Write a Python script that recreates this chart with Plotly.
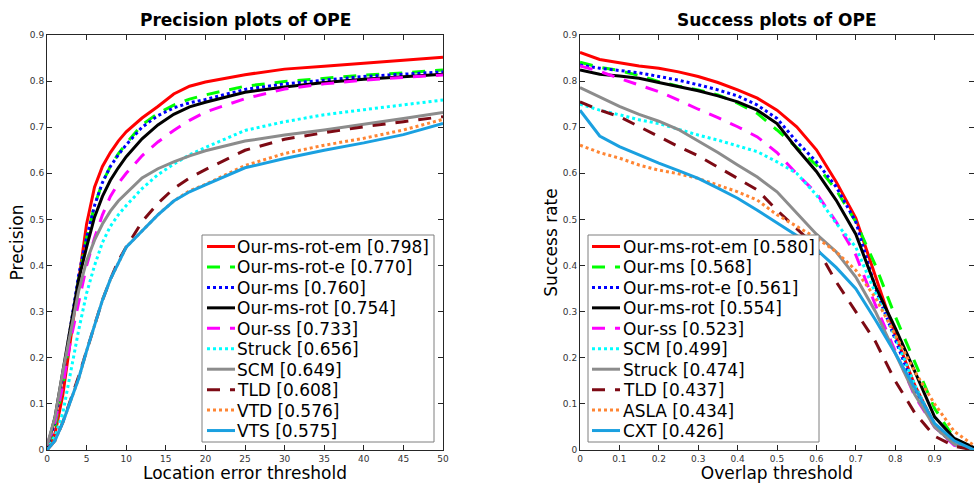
import plotly.graph_objects as go

W, H = 974, 483

# ---------------- data ----------------
prec_x = [0, 1, 2, 3, 4, 5, 6, 7, 8, 9, 10, 12, 14, 16, 18, 20, 25, 30, 35, 40, 45, 50]
prec_names = ["Our-ms-rot-em", "Our-ms-rot-e", "Our-ms", "Our-ms-rot", "Our-ss",
              "Struck", "SCM", "TLD", "VTD", "VTS"]
prec_scores = ["0.798", "0.770", "0.760", "0.754", "0.733", "0.656", "0.649", "0.608", "0.576", "0.575"]
prec_red = [0.005, 0.035, 0.12, 0.24, 0.37, 0.49, 0.57, 0.615, 0.645, 0.67, 0.69, 0.72, 0.745, 0.772, 0.789, 0.798, 0.814, 0.826, 0.832, 0.839, 0.846, 0.852]
prec_green = [0.005, 0.05, 0.14, 0.26, 0.37, 0.46, 0.53, 0.58, 0.615, 0.642, 0.665, 0.705, 0.73, 0.748, 0.761, 0.770, 0.789, 0.799, 0.806, 0.813, 0.818, 0.824]
prec_blue = [0.005, 0.06, 0.16, 0.27, 0.38, 0.46, 0.53, 0.58, 0.615, 0.64, 0.662, 0.70, 0.725, 0.742, 0.753, 0.760, 0.782, 0.794, 0.802, 0.81, 0.815, 0.820]
prec_black = [0.005, 0.07, 0.17, 0.27, 0.37, 0.44, 0.505, 0.55, 0.585, 0.612, 0.636, 0.675, 0.705, 0.728, 0.744, 0.754, 0.776, 0.787, 0.797, 0.804, 0.810, 0.815]
prec_magenta = [0.01, 0.06, 0.14, 0.24, 0.32, 0.40, 0.46, 0.51, 0.55, 0.578, 0.60, 0.638, 0.668, 0.693, 0.715, 0.733, 0.762, 0.783, 0.794, 0.802, 0.808, 0.813]
prec_cyan = [0.0, 0.03, 0.08, 0.17, 0.26, 0.34, 0.40, 0.45, 0.485, 0.51, 0.53, 0.567, 0.597, 0.62, 0.64, 0.656, 0.693, 0.712, 0.727, 0.738, 0.748, 0.759]
prec_gray = [0.01, 0.07, 0.17, 0.26, 0.345, 0.41, 0.455, 0.49, 0.518, 0.54, 0.557, 0.59, 0.61, 0.625, 0.638, 0.649, 0.67, 0.683, 0.694, 0.706, 0.719, 0.732]
prec_maroon = [0.0, 0.02, 0.06, 0.11, 0.16, 0.215, 0.27, 0.325, 0.37, 0.41, 0.44, 0.495, 0.535, 0.567, 0.59, 0.608, 0.65, 0.674, 0.688, 0.701, 0.712, 0.723]
prec_orange = [0.0, 0.02, 0.06, 0.11, 0.155, 0.215, 0.27, 0.325, 0.37, 0.405, 0.44, 0.475, 0.51, 0.54, 0.562, 0.576, 0.617, 0.643, 0.661, 0.676, 0.694, 0.717]
prec_sky = [0.0, 0.02, 0.06, 0.11, 0.155, 0.215, 0.27, 0.325, 0.37, 0.405, 0.44, 0.475, 0.51, 0.54, 0.56, 0.575, 0.612, 0.632, 0.65, 0.666, 0.684, 0.708]

succ_x = [0, 0.05, 0.1, 0.15, 0.2, 0.25, 0.3, 0.35, 0.4, 0.45, 0.5, 0.55, 0.6, 0.65, 0.7, 0.75, 0.8, 0.85, 0.9, 0.95, 1.0]
succ_names = ["Our-ms-rot-em", "Our-ms", "Our-ms-rot-e", "Our-ms-rot", "Our-ss",
              "SCM", "Struck", "TLD", "ASLA", "CXT"]
succ_scores = ["0.580", "0.568", "0.561", "0.554", "0.523", "0.499", "0.474", "0.437", "0.434", "0.426"]
succ_red = [0.862, 0.847, 0.840, 0.833, 0.828, 0.820, 0.810, 0.797, 0.781, 0.763, 0.737, 0.701, 0.651, 0.582, 0.503, 0.375, 0.25, 0.14, 0.055, 0.012, 0.0]
succ_green = [0.841, 0.830, 0.823, 0.812, 0.799, 0.789, 0.781, 0.770, 0.752, 0.730, 0.694, 0.656, 0.618, 0.564, 0.495, 0.40, 0.29, 0.19, 0.09, 0.025, 0.003]
succ_blue = [0.835, 0.828, 0.823, 0.818, 0.810, 0.802, 0.792, 0.781, 0.768, 0.748, 0.719, 0.669, 0.625, 0.571, 0.495, 0.35, 0.24, 0.13, 0.05, 0.012, 0.0]
succ_black = [0.824, 0.815, 0.811, 0.806, 0.797, 0.788, 0.779, 0.768, 0.755, 0.737, 0.708, 0.654, 0.604, 0.542, 0.468, 0.354, 0.265, 0.17, 0.072, 0.025, 0.005]
succ_magenta = [0.833, 0.821, 0.806, 0.792, 0.777, 0.759, 0.739, 0.721, 0.701, 0.679, 0.645, 0.599, 0.557, 0.495, 0.423, 0.314, 0.217, 0.116, 0.05, 0.01, 0.0]
succ_cyan = [0.750, 0.737, 0.727, 0.716, 0.708, 0.695, 0.683, 0.672, 0.659, 0.647, 0.625, 0.600, 0.553, 0.492, 0.44, 0.34, 0.245, 0.14, 0.055, 0.012, 0.0]
succ_gray = [0.786, 0.765, 0.745, 0.728, 0.713, 0.695, 0.670, 0.645, 0.618, 0.592, 0.560, 0.515, 0.468, 0.43, 0.375, 0.30, 0.21, 0.12, 0.05, 0.012, 0.0]
succ_maroon = [0.755, 0.737, 0.723, 0.701, 0.679, 0.658, 0.638, 0.614, 0.589, 0.564, 0.52, 0.48, 0.44, 0.365, 0.30, 0.235, 0.15, 0.08, 0.03, 0.008, 0.0]
succ_orange = [0.661, 0.645, 0.633, 0.618, 0.607, 0.599, 0.589, 0.575, 0.560, 0.542, 0.51, 0.485, 0.46, 0.43, 0.39, 0.33, 0.25, 0.17, 0.10, 0.04, 0.01]
succ_sky = [0.737, 0.681, 0.658, 0.640, 0.622, 0.606, 0.589, 0.568, 0.546, 0.520, 0.492, 0.465, 0.435, 0.396, 0.35, 0.282, 0.21, 0.135, 0.058, 0.02, 0.0]

prec_series = [prec_red, prec_green, prec_blue, prec_black, prec_magenta,
               prec_cyan, prec_gray, prec_maroon, prec_orange, prec_sky]
succ_series = [succ_red, succ_green, succ_blue, succ_black, succ_magenta,
               succ_cyan, succ_gray, succ_maroon, succ_orange, succ_sky]

# ---------------- styles ----------------
colors = ["#ff0000", "#00ff00", "#0000ff", "#000000", "#ff00ff",
          "#00ffff", "#8c8c8c", "#7d0a14", "#ff8533", "#1aa0e0"]
DASHED = "13px,10px"
dashes = ["solid", DASHED, "dot", "solid", DASHED,
          "dot", "solid", DASHED, "dot", "solid"]
LW = 3
FONT = "DejaVu Sans"
AXC = "#262626"

# plot area in pixels
L1, R1 = 47, 443
L2, R2 = 580, 974
TOP, BOT = 35, 450
PW = W - L1          # plotting width (margin l = L1, r = 0)
PH = BOT - TOP       # plotting height (margin t = TOP, b = H - BOT)


def fx(px):
    return (px - L1) / PW


def fy(py):
    return (BOT - py) / PH


fig = go.Figure()

for ys, c, d, n in zip(prec_series, colors, dashes, prec_names):
    fig.add_trace(go.Scatter(x=prec_x, y=ys, mode="lines", name=n, showlegend=False,
                             line=dict(color=c, width=LW, dash=d),
                             xaxis="x", yaxis="y"))
for ys, c, d, n in zip(succ_series, colors, dashes, succ_names):
    fig.add_trace(go.Scatter(x=succ_x, y=ys, mode="lines", name=n, showlegend=False,
                             line=dict(color=c, width=LW, dash=d),
                             xaxis="x2", yaxis="y2"))

axis_common = dict(showline=True, linecolor=AXC, linewidth=1, mirror="ticks",
                   ticks="inside", ticklen=5, tickcolor=AXC, tickwidth=1,
                   showgrid=False, zeroline=False,
                   tickfont=dict(family=FONT, size=9, color="#333333"))

fig.update_layout(
    width=W, height=H,
    margin=dict(l=L1, r=0, t=TOP, b=H - BOT, autoexpand=False),
    paper_bgcolor="white", plot_bgcolor="white",
    font=dict(family=FONT, color="black"),
    xaxis=dict(domain=[fx(L1), fx(R1)], range=[0, 50], tickvals=list(range(0, 51, 5)),
               anchor="y",
               title=dict(text="Location error threshold", font=dict(family=FONT, size=17), standoff=7),
               **axis_common),
    yaxis=dict(domain=[0, 1], range=[0, 0.9], dtick=0.1, tick0=0,
               anchor="x",
               title=dict(text="Precision", font=dict(family=FONT, size=17), standoff=1),
               **axis_common),
    xaxis2=dict(domain=[fx(L2), fx(R2)], range=[0, 1], dtick=0.1, tick0=0,
                anchor="y2",
                title=dict(text="Overlap threshold", font=dict(family=FONT, size=17), standoff=7),
                **axis_common),
    yaxis2=dict(domain=[0, 1], range=[0, 0.9], dtick=0.1, tick0=0,
                anchor="x2",
                title=dict(text="Success rate", font=dict(family=FONT, size=17), standoff=0),
                **axis_common),
)

annotations = []
shapes = []

# titles
for cx, txt in [((L1 + R1) / 2, "Precision plots of OPE"), ((L2 + R2) / 2, "Success plots of OPE")]:
    annotations.append(dict(x=fx(cx), y=fy(20), xref="paper", yref="paper",
                            text="<b>%s</b>" % txt, showarrow=False,
                            xanchor="center", yanchor="middle",
                            font=dict(family=FONT, size=17, color="black")))


def add_legend(box, sample_x0, sample_x1, text_x, names, scores):
    bx0, by0, bx1, by1 = box
    shapes.append(dict(type="rect", xref="paper", yref="paper",
                       x0=fx(bx0), x1=fx(bx1), y0=fy(by1), y1=fy(by0),
                       line=dict(color="#7f7f7f", width=1), fillcolor="white", layer="above"))
    for i, (n, s) in enumerate(zip(names, scores)):
        ry = 246.5 + i * 20.45
        shapes.append(dict(type="line", xref="paper", yref="paper",
                           x0=fx(sample_x0), x1=fx(sample_x1), y0=fy(ry), y1=fy(ry),
                           line=dict(color=colors[i], width=LW, dash=dashes[i]), layer="above"))
        annotations.append(dict(x=fx(text_x), y=fy(ry + 0.5), xref="paper", yref="paper",
                                text="%s [%s]" % (n, s), showarrow=False,
                                xanchor="left", yanchor="middle",
                                font=dict(family=FONT, size=17, color="black")))


add_legend((202, 235, 434, 442), 207, 235, 235, prec_names, prec_scores)
add_legend((588, 235, 819, 442), 592, 620, 621, succ_names, succ_scores)

fig.update_layout(annotations=annotations, shapes=shapes)

fig.write_html("out.html", config={"displayModeBar": False},
               post_script="document.body.style.margin='0';document.body.style.overflow='hidden';")
